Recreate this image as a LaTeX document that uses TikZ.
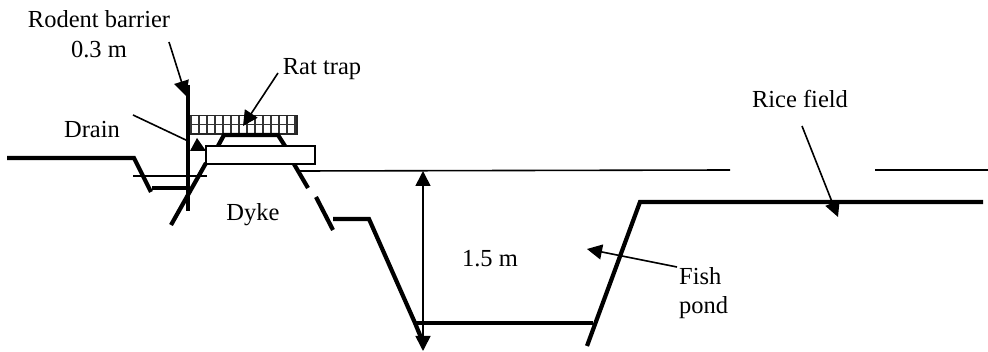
\documentclass[tikz,border=0pt]{standalone}
\usepackage{fontspec}
\setmainfont{Liberation Serif}
\usetikzlibrary{arrows.meta}
\tikzset{
  ground/.style={line width=4.2pt,line cap=butt,line join=miter},
  thinline/.style={line width=1.6pt},
  leader/.style={line width=1.6pt,-{Triangle[length=15pt,width=15pt]}},
  lbl/.style={inner sep=0pt,font=\fontsize{24.5pt}{29pt}\selectfont,align=center}
}
\begin{document}
\begin{tikzpicture}[x=1pt,y=-1pt]
\useasboundingbox (0,0) rectangle (988,352);
% labels
\node[lbl] (rb) at (99,19) {Rodent barrier};
\node[lbl] (h3) at (99,50) {0.3 m};
\node[lbl] (rt) at (322,69) {Rat trap};
\node[lbl] (dr) at (92,130) {Drain};
\node[lbl] (dy) at (253,215) {Dyke};
\node[lbl] (h15) at (490,259) {1.5 m};
\node[lbl] (rf) at (800,99) {Rice field};
\node[lbl,align=left,anchor=north west] (fp) at (679,267) {Fish\\pond};
% coordinates
\coordinate (rbS) at (169,42);
\coordinate (rbT) at (186,96);
\coordinate (rtS) at (278,73);
\coordinate (rtT) at (243,126);
\coordinate (drS) at (133,115);
\coordinate (drT) at (188,141);
\coordinate (fpS) at (677,267);
\coordinate (fpT) at (587,249);
\coordinate (rfS) at (802,126);
\coordinate (rfT) at (838,217);
\coordinate (hT) at (423,171);
\coordinate (hB) at (423,351);
% water lines
\draw[thinline] (133,176) -- (207,176);
\draw[thinline] (300,171) -- (730,170);
\draw[thinline] (875,170) -- (988,170);
% rat trap grid
\foreach \gx in {191,199,...,295} \draw[line width=1.5pt,draw=black!80] (\gx,115) -- (\gx,134);
\draw[line width=1.5pt,draw=black!80] (188,124.5) -- (297,124.5);
\draw[line width=1.6pt,draw=black!85] (188,115.5) rectangle (297,134);
% ground profile
\draw[ground] (7,158) -- (134,158) -- (151,192);
\draw[ground] (152,188) -- (188,188);
\draw[ground] (171,225) -- (206,163);
\draw[ground] (218,146) -- (224,135) -- (278,135) -- (285,146);
\draw[ground] (294,164) -- (308,188);
\draw[ground] (316,197) -- (333,230);
\draw[ground] (333,219) -- (369,219) -- (415,323) -- (422,340);
\draw[ground] (415,323) -- (593,323);
\draw[ground] (587,346) -- (640,202) -- (983,202);
% barrier
\draw[line width=4.5pt] (188,85) -- (188,211);
% trap box
\node[draw,line width=1.5pt,fill=white,minimum width=109pt,minimum height=18pt,inner sep=0pt] (box) at (260.5,155) {};
% connectors
\draw[leader] (rbS) -- (rbT);
\draw[leader] (rtS) -- (rtT);
\draw[line width=1.6pt] (drS) -- (drT);
\fill (197,138) -- (190,151) -- (206,151) -- cycle;
\draw[leader] (fpS) -- (fpT);
\draw[leader] (rfS) -- (rfT);
\draw[line width=1.6pt,{Triangle[length=15pt,width=15pt]}-{Triangle[length=15pt,width=15pt]}] (hT) -- (hB);
\end{tikzpicture}
\end{document}
